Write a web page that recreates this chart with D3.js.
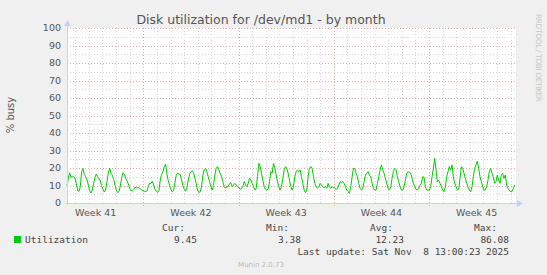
<!DOCTYPE html>
<html>
<head>
<meta charset="utf-8">
<script src="https://cdn.jsdelivr.net/npm/d3@7"></script>
<style>
  html, body { margin: 0; padding: 0; background: #f0f0f0; }
  svg { display: block; }
  text { font-family: "DejaVu Sans", sans-serif; }
  text.mono { font-family: "DejaVu Sans Mono", monospace; }
</style>
</head>
<body>
<div id="chart"></div>
<script>
// --- data -------------------------------------------------------------
const title = 'Disk utilization for /dev/md1 - by month';
const yLabel = '% busy';
const seriesName = 'Utilization';
const yTicks = [0, 10, 20, 30, 40, 50, 60, 70, 80, 90, 100];
const stats = { cur: '9.45', min: '3.38', avg: '12.23', max: '86.08' };
const lastUpdate = 'Last update: Sat Nov  8 13:00:23 2025';
const startTime = new Date(Date.UTC(2025, 9, 6, 9, 24));
const endTime = new Date(Date.UTC(2025, 10, 8, 9, 24));
const stepMinutes = 141;

// % busy (one value per step)
const busy = [
  9.7, 14.1, 17.3, 14.7, 15.0, 15.0, 14.3, 11.2, 7.0, 6.7, 9.3, 17.9, 19.8, 16.2, 15.0, 13.5,
  10.3, 7.0, 5.7, 7.4, 11.2, 14.7, 16.6, 15.0, 13.9, 12.6, 9.9, 7.8, 6.3, 7.4, 12.2, 17.0,
  20.0, 17.0, 15.8, 13.9, 10.3, 7.4, 5.9, 6.5, 9.7, 14.1, 17.3, 16.6, 14.3, 12.8, 10.9, 8.4,
  7.0, 6.9, 7.6, 9.0, 8.6, 8.8, 8.6, 8.0, 7.4, 7.0, 6.7, 6.5, 6.9, 9.3, 11.2, 11.2,
  12.4, 10.3, 7.8, 6.7, 6.1, 7.0, 13.1, 16.4, 17.7, 20.8, 22.1, 16.6, 12.8, 10.1, 7.8, 6.3,
  7.0, 11.6, 15.8, 17.0, 16.6, 16.2, 13.1, 9.9, 7.8, 6.7, 8.8, 13.1, 16.4, 17.7, 18.5, 17.3,
  14.1, 11.2, 7.4, 5.9, 6.5, 9.3, 16.0, 18.9, 19.8, 17.9, 15.0, 12.2, 9.3, 7.4, 10.3, 16.0,
  19.8, 20.8, 18.9, 17.0, 15.0, 12.2, 9.3, 8.4, 9.3, 9.3, 11.2, 11.6, 9.3, 10.3, 11.2, 10.3,
  9.3, 8.8, 7.8, 8.4, 9.3, 12.2, 10.3, 9.3, 11.2, 14.1, 13.1, 11.2, 9.3, 7.4, 8.4, 15.0,
  22.7, 20.8, 17.0, 13.1, 9.3, 7.8, 7.4, 7.8, 12.2, 17.9, 17.0, 22.7, 19.8, 16.0, 12.2, 9.3,
  7.4, 9.3, 14.1, 18.9, 20.8, 19.8, 17.0, 13.1, 9.3, 7.4, 9.3, 15.0, 17.9, 18.9, 17.9, 18.9,
  15.0, 11.2, 7.4, 5.9, 7.4, 15.0, 19.8, 20.8, 19.8, 15.0, 11.2, 9.3, 8.4, 9.3, 11.2, 10.3,
  9.3, 8.8, 9.3, 8.4, 11.2, 9.3, 8.4, 9.3, 8.8, 8.4, 7.8, 8.4, 10.3, 12.2, 11.6, 12.2,
  11.2, 9.3, 7.4, 6.5, 5.5, 9.3, 15.0, 19.8, 19.8, 17.0, 15.0, 11.2, 8.4, 7.4, 8.4, 12.2,
  16.0, 17.0, 17.9, 16.0, 15.0, 11.2, 8.4, 7.4, 7.4, 11.2, 15.0, 18.9, 21.7, 18.9, 17.0, 14.1,
  11.2, 8.4, 7.4, 9.3, 14.1, 17.9, 19.8, 18.9, 15.0, 12.2, 9.3, 7.4, 7.4, 9.3, 13.1, 17.0,
  17.9, 17.3, 17.0, 14.1, 11.2, 9.3, 7.8, 7.4, 8.4, 10.3, 11.2, 15.0, 14.7, 9.3, 7.4, 7.4,
  7.4, 9.3, 15.0, 19.8, 25.5, 18.9, 12.2, 13.1, 11.2, 9.3, 7.4, 6.5, 9.3, 15.0, 17.9, 20.8,
  18.9, 21.7, 15.0, 11.2, 9.3, 7.4, 7.8, 14.1, 20.8, 19.8, 17.0, 14.1, 11.2, 9.3, 7.4, 6.5,
  9.3, 15.0, 19.8, 21.7, 23.9, 19.8, 15.0, 12.2, 9.3, 7.4, 7.4, 9.3, 13.1, 17.9, 19.8, 17.0,
  15.0, 11.2, 12.2, 16.0, 13.1, 11.2, 16.0, 17.0, 14.1, 16.0, 10.3, 8.4, 7.4, 6.5, 6.5, 8.4,
  10.3
];

// --- layout -----------------------------------------------------------
const W = 547, H = 275;
const plot = { left: 67, right: 516, top: 28, bottom: 203 };

const svg = d3.select('#chart').append('svg')
  .attr('width', W)
  .attr('height', H);

svg.append('rect')
  .attr('width', W).attr('height', H)
  .attr('fill', '#f0f0f0');

const x = d3.scaleUtc()
  .domain([startTime, endTime])
  .range([plot.left, plot.right]);
const y = d3.scaleLinear()
  .domain([0, 100])
  .range([plot.bottom, plot.top]);

// canvas
svg.append('rect')
  .attr('x', plot.left).attr('y', plot.top)
  .attr('width', plot.right - plot.left)
  .attr('height', plot.bottom - plot.top)
  .attr('fill', '#ffffff');

const grid = svg.append('g').attr('class', 'grid')
  .attr('shape-rendering', 'crispEdges');

//minor grid: days and every 5 %
const days = d3.utcDay.range(startTime, endTime);
const weeks = d3.utcSunday.range(startTime, endTime);
const isWeek = d => d.getUTCDay() === 0;
const minorColor = '#d6d6d6';
const majorColor = '#f0a8a8';

grid.selectAll('.vminor')
  .data(days.filter(d => !isWeek(d)))
  .join('line')
  .attr('x1', d => Math.round(x(d)) + 0.5).attr('x2', d => Math.round(x(d)) + 0.5)
  .attr('y1', plot.top).attr('y2', plot.bottom + 2)
  .attr('stroke', minorColor).attr('stroke-dasharray', '1,2');

grid.selectAll('.hminor')
  .data(d3.range(5, 100, 10))
  .join('line')
  .attr('x1', plot.left).attr('x2', plot.right)
  .attr('y1', d => Math.round(y(d)) + 0.5).attr('y2', d => Math.round(y(d)) + 0.5)
  .attr('stroke', minorColor).attr('stroke-dasharray', '1,2');

//major grid
grid.selectAll('.vmajor')
  .data(weeks)
  .join('line')
  .attr('x1', d => Math.round(x(d)) + 0.5).attr('x2', d => Math.round(x(d)) + 0.5)
  .attr('y1', plot.top).attr('y2', plot.bottom + 3)
  .attr('stroke', majorColor).attr('stroke-dasharray', '1,2');

grid.selectAll('.hmajor')
  .data(yTicks.filter(d => d > 0))
  .join('line')
  .attr('x1', plot.left).attr('x2', plot.right)
  .attr('y1', d => Math.round(y(d)) + 0.5).attr('y2', d => Math.round(y(d)) + 0.5)
  .attr('stroke', majorColor).attr('stroke-dasharray', '1,2');

// data line
const line = d3.line()
  .x((d, i) => x(d3.utcMinute.offset(startTime, i * stepMinutes)))
  .y(d => y(d));

svg.append('path')
  .datum(busy)
  .attr('d', line)
  .attr('fill', 'none')
  .attr('stroke', '#00cc00')
  .attr('stroke-width', 1);

// axes (rrdtool style with arrows)
const axisColor = '#c9d0f5';
svg.append('line')
  .attr('x1', plot.left - 2).attr('x2', plot.right + 2)
  .attr('y1', plot.bottom + 0.5).attr('y2', plot.bottom + 0.5)
  .attr('stroke', axisColor);
svg.append('line')
  .attr('x1', plot.left + 0.5).attr('x2', plot.left + 0.5)
  .attr('y1', plot.bottom + 2).attr('y2', plot.top - 4)
  .attr('stroke', axisColor);
svg.append('path')
  .attr('d', `M ${plot.right + 1} ${plot.bottom - 3} L ${plot.right + 7} ${plot.bottom + 0.5} L ${plot.right + 1} ${plot.bottom + 4} Z`)
  .attr('fill', axisColor);
svg.append('path')
  .attr('d', `M ${plot.left - 3} ${plot.top - 2} L ${plot.left + 0.5} ${plot.top - 8} L ${plot.left + 4} ${plot.top - 2} Z`)
  .attr('fill', axisColor);

// y tick labels
svg.append('g').selectAll('text')
  .data(yTicks)
  .join('text')
  .attr('x', 61)
  .attr('y', d => y(d))
  .attr('dy', '0.35em')
  .attr('text-anchor', 'end')
  .attr('font-size', 9.5)
  .attr('fill', '#555')
  .text(d => d);

// x labels, centred in the week
const fmtWeek = d3.utcFormat('Week %V');
const weekStarts = [d3.utcSunday.offset(weeks[0], -1)].concat(weeks);
svg.append('g').selectAll('text')
  .data(weekStarts.filter(d => x(d3.utcHour.offset(d, 84)) < plot.right))
  .join('text')
  .attr('x', d => x(d3.utcHour.offset(d, 84)))
  .attr('y', 216)
  .attr('text-anchor', 'middle')
  .attr('font-size', 9.5)
  .attr('fill', '#555')
  .text(d => fmtWeek(d3.utcHour.offset(d, 84)));

// title and side texts
svg.append('text')
  .attr('x', 261).attr('y', 24)
  .attr('text-anchor', 'middle')
  .attr('font-size', 12.5)
  .attr('fill', '#555')
  .text(title);

svg.append('text')
  .attr('transform', 'translate(14,115) rotate(-90)')
  .attr('text-anchor', 'middle')
  .attr('font-size', 10)
  .attr('fill', '#555')
  .text(yLabel);

svg.append('text')
  .attr('transform', 'translate(536,14) rotate(90)')
  .attr('font-size', 7.5)
  .attr('textLength', 88)
  .attr('lengthAdjust', 'spacing')
  .attr('fill', '#c8c8c8')
  .text('RRDTOOL / TOBI OETIKER');

// legend
const legend = svg.append('g');
legend.append('rect')
  .attr('x', 14).attr('y', 236)
  .attr('width', 7).attr('height', 7)
  .attr('fill', '#00cc00');
legend.append('text')
  .attr('x', 25).attr('y', 243)
  .text(seriesName);

const cols = [
  { head: 'Cur:', val: stats.cur, headEnd: 185, valEnd: 197 },
  { head: 'Min:', val: stats.min, headEnd: 289, valEnd: 301 },
  { head: 'Avg:', val: stats.avg, headEnd: 393, valEnd: 404 },
  { head: 'Max:', val: stats.max, headEnd: 497, valEnd: 509 }
];
legend.selectAll('.head')
  .data(cols)
  .join('text')
  .attr('x', d => d.headEnd).attr('y', 231)
  .attr('text-anchor', 'end')
  .text(d => d.head);
legend.selectAll('.val')
  .data(cols)
  .join('text')
  .attr('x', d => d.valEnd).attr('y', 243)
  .attr('text-anchor', 'end')
  .text(d => d.val);
legend.append('text')
  .attr('x', 509).attr('y', 255)
  .attr('text-anchor', 'end')
  .style('white-space', 'pre')
  .text(lastUpdate);
legend.selectAll('text')
  .attr('class', 'mono')
  .attr('font-size', 9.5)
  .attr('fill', '#444');

svg.append('text')
  .attr('x', 261).attr('y', 267)
  .attr('text-anchor', 'middle')
  .attr('font-size', 7)
  .attr('fill', '#bbb')
  .text('Munin 2.0.73');
</script>
</body>
</html>
